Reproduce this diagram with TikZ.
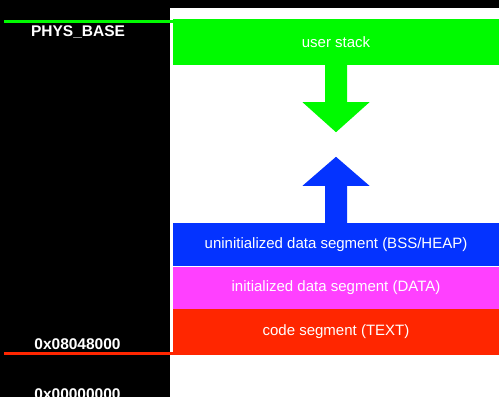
\documentclass[tikz,border=0pt]{standalone}
\usepackage{fontspec}
\setmainfont{Liberation Sans}
\usetikzlibrary{calc}
\definecolor{stackgreen}{RGB}{0,250,0}
\definecolor{bssblue}{RGB}{4,51,255}
\definecolor{datamagenta}{RGB}{255,64,255}
\definecolor{textred}{RGB}{255,38,0}
\tikzset{
  seg/.style={rectangle, draw=none, minimum width=326, inner sep=0pt,
    text=white, font=\fontsize{15}{17}\selectfont},
  addr/.style={anchor=base, text=white, inner sep=0pt,
    font=\fontsize{15.5}{17}\selectfont\bfseries},
  marker/.style={line width=3pt}
}
\begin{document}
\begin{tikzpicture}[x=1pt,y=-1pt]
\useasboundingbox (0,0) rectangle (499,397);
% background: black address column, white memory area
\fill[black] (0,0) rectangle (499,397);
\fill[white] (170,8) rectangle (499,397);

% memory segments
\node[seg, fill=stackgreen, minimum height=46] (stack) at (336,42) {\raisebox{-1.5pt}{user stack}};
\node[seg, fill=bssblue, minimum height=43] (bss) at (336,244.5) {uninitialized data segment (BSS/HEAP)};
\node[seg, fill=datamagenta, minimum height=42] (data) at (336,288) {initialized data segment (DATA)};
\node[seg, fill=textred, minimum height=45.5] (text) at (336,331.75) {code segment (TEXT)};

% stack grows down
\fill[stackgreen] ($(stack.south)+(-11,0)$) -- ++(0,37) -- ++(-22.5,0)
  -- ($(stack.south)+(0,67)$) -- ($(stack.south)+(33.5,37)$) -- ++(-22.5,0)
  -- ($(stack.south)+(11,0)$) -- cycle;
% heap grows up
\fill[bssblue] ($(bss.north)+(-11,0)$) -- ++(0,-37) -- ++(-22.5,0)
  -- ($(bss.north)+(0,-66)$) -- ($(bss.north)+(33.5,-37)$) -- ++(-22.5,0)
  -- ($(bss.north)+(11,0)$) -- cycle;

% address markers
\coordinate (physL) at (4,21.5);
\coordinate (physR) at (173,21.5);
\draw[marker, stackgreen] (physL) -- (physR);
\coordinate (codeL) at (4,353.5);
\coordinate (codeR) at (173,353.5);
\draw[marker, textred] (codeL) -- (codeR);

% address labels
\node[addr] (physbase) at (78,36) {PHYS\_BASE};
\node[addr] (codebase) at (77.5,349.5) {0x08048000};
\node[addr] (zero) at (77.5,399.5) {0x00000000};
\end{tikzpicture}
\end{document}
